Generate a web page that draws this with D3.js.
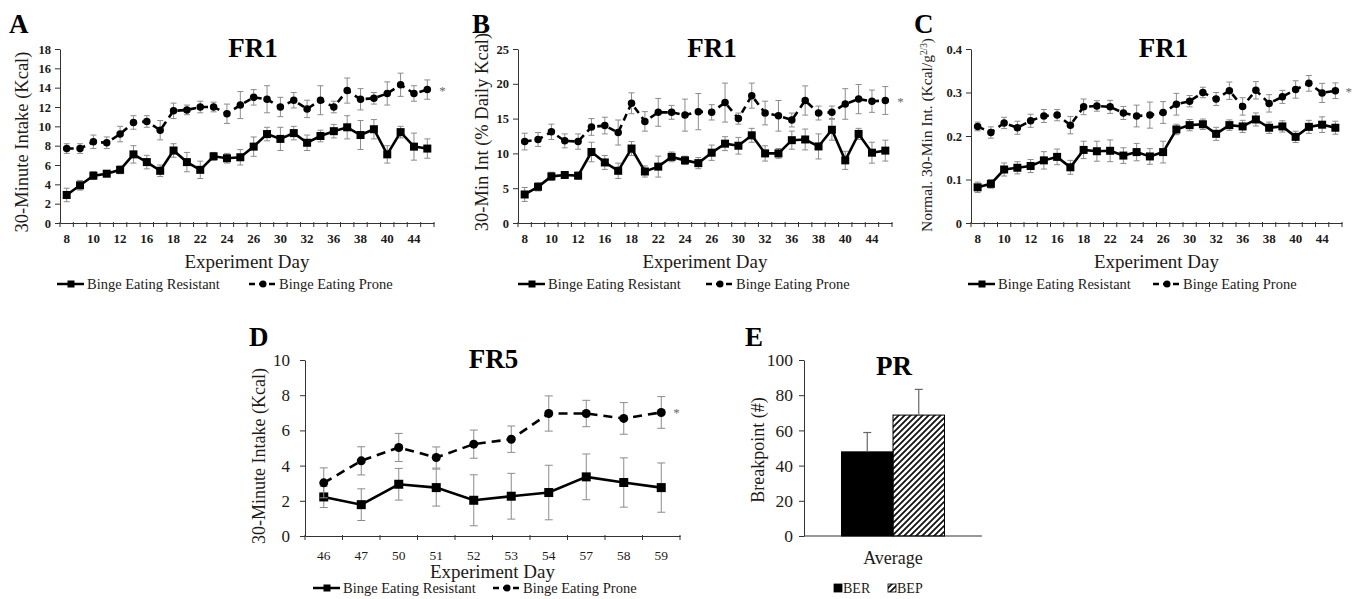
<!DOCTYPE html>
<html>
<head>
<meta charset="utf-8">
<script src="https://cdn.jsdelivr.net/npm/d3@7"></script>
<style>
  body { margin: 0; background: #fff; }
</style>
</head>
<body>
<svg id="chart" width="1361" height="599"></svg>
<script>
'use strict';

// ---- data ----
const frDays = ["8", "9", "10", "11", "12", "15", "16", "17", "18", "19", "22", "23", "24", "25",
    "26", "29", "30", "31", "32", "33", "36", "37", "38", "39", "40", "43", "44", "45"];
const frTickLabels = ["8", "10", "12", "16", "18", "22", "24", "26", "30", "32", "36", "38", "40", "44"];

const aResistant = [2.9, 3.9, 4.9, 5.1, 5.5, 7.1, 6.3, 5.4, 7.5, 6.3, 5.5, 6.9, 6.7, 6.8, 7.9, 9.2, 8.7, 9.3, 8.3, 9.0, 9.5, 9.9, 9.1, 9.7, 7.1, 9.4, 7.9, 7.7];
const aResistantErr = [0.7, 0.5, 0.4, 0.3, 0.4, 0.9, 0.7, 0.6, 0.7, 1.0, 0.9, 0.4, 0.5, 0.8, 1.0, 0.7, 1.2, 0.7, 0.8, 0.6, 0.7, 1.2, 1.5, 1.0, 0.9, 0.6, 1.4, 1.0];
const aProne = [7.7, 7.7, 8.4, 8.3, 9.2, 10.4, 10.5, 9.6, 11.6, 11.7, 12.0, 12.0, 11.3, 12.2, 13.0, 12.8, 12.0, 12.7, 11.8, 12.7, 12.0, 13.7, 12.8, 12.9, 13.4, 14.3, 13.4, 13.8];
const aProneErr = [0.5, 0.5, 0.7, 0.6, 0.8, 0.7, 0.6, 1.0, 0.8, 0.5, 0.6, 0.5, 1.0, 1.4, 0.8, 1.4, 1.0, 0.8, 0.9, 1.5, 0.6, 1.3, 1.1, 0.6, 1.2, 1.2, 0.8, 1.0];

const bResistant = [4.1, 5.2, 6.7, 6.9, 6.8, 10.2, 8.7, 7.5, 10.7, 7.4, 8.1, 9.5, 9.0, 8.6, 10.1, 11.4, 11.1, 12.6, 10.0, 10.0, 11.9, 12.0, 11.0, 13.4, 9.0, 12.8, 10.1, 10.4];
const bResistantErr = [1.0, 0.6, 0.6, 0.5, 0.5, 1.4, 1.0, 1.1, 1.0, 0.8, 1.5, 0.7, 0.6, 0.8, 1.1, 1.0, 1.2, 1.0, 1.1, 0.7, 1.3, 1.5, 1.8, 1.5, 1.3, 0.8, 1.5, 1.5];
const bProne = [11.7, 12.0, 13.1, 11.8, 11.7, 13.8, 14.0, 13.0, 17.2, 14.6, 15.9, 15.9, 15.5, 16.0, 15.9, 17.3, 15.0, 18.3, 15.8, 15.4, 14.8, 17.6, 15.8, 15.9, 17.1, 17.8, 17.5, 17.6];
const bProneErr = [1.2, 1.0, 1.1, 1.0, 1.1, 1.2, 1.2, 1.8, 1.5, 1.4, 2.0, 1.0, 2.3, 2.6, 1.1, 2.8, 0.8, 1.8, 1.7, 2.2, 1.0, 2.1, 1.0, 0.9, 2.2, 2.1, 1.6, 2.0];

const cResistant = [0.082, 0.090, 0.123, 0.127, 0.131, 0.144, 0.152, 0.128, 0.168, 0.165, 0.166, 0.155, 0.163, 0.153, 0.163, 0.215, 0.225, 0.227, 0.205, 0.225, 0.222, 0.238, 0.219, 0.222, 0.198, 0.221, 0.226, 0.219];
const cResistantErr = [0.012, 0.010, 0.015, 0.014, 0.015, 0.020, 0.018, 0.016, 0.020, 0.023, 0.025, 0.018, 0.020, 0.018, 0.025, 0.012, 0.013, 0.012, 0.015, 0.012, 0.014, 0.015, 0.013, 0.013, 0.013, 0.015, 0.018, 0.015];
const cProne = [0.222, 0.208, 0.230, 0.219, 0.235, 0.246, 0.248, 0.225, 0.267, 0.269, 0.267, 0.253, 0.246, 0.248, 0.254, 0.273, 0.280, 0.300, 0.285, 0.304, 0.268, 0.305, 0.275, 0.290, 0.307, 0.321, 0.299, 0.304];
const cProneErr = [0.010, 0.013, 0.013, 0.015, 0.015, 0.015, 0.013, 0.020, 0.018, 0.012, 0.015, 0.015, 0.025, 0.030, 0.025, 0.025, 0.013, 0.012, 0.015, 0.020, 0.020, 0.020, 0.020, 0.015, 0.020, 0.018, 0.022, 0.018];

const fr5Days = ["46", "47", "50", "51", "52", "53", "54", "57", "58", "59"];
const dResistant = [2.22, 1.78, 2.94, 2.75, 2.03, 2.26, 2.47, 3.36, 3.04, 2.75];
const dResistantErr = [0.6, 0.9, 0.9, 1.05, 1.45, 1.3, 1.55, 1.3, 1.4, 1.4];
const dProne = [3.02, 4.27, 5.03, 4.46, 5.22, 5.5, 6.96, 6.96, 6.68, 7.02];
const dProneErr = [0.85, 0.8, 0.8, 0.6, 0.8, 0.75, 1.0, 0.75, 0.9, 0.9];

const prCategory = ["Average"];
const prGroups = ["BER", "BEP"];
const prMeans = [47.8, 68.7];
const prSem = [11.0, 14.6];

const seriesNames = ["Binge Eating Resistant", "Binge Eating Prone"];

// ---- drawing ----
const SERIF = "'Liberation Serif', 'Times New Roman', serif";
const INK = "#1e1a18";
const ERR = "#8c8c8c";
const svg = d3.select("#chart").attr("font-family", SERIF);

// hatch for the BEP bar
svg.append("defs").append("pattern")
    .attr("id", "hatch")
    .attr("patternUnits", "userSpaceOnUse")
    .attr("width", 6).attr("height", 6)
    .append("path")
    .attr("d", "M-1,1 l2,-2 M0,6 l6,-6 M5,7 l2,-2")
    .attr("stroke", "#111")
    .attr("stroke-width", 1.8);

const addMarker = (g, kind, x, y, size) => {
    if (kind === "square") {
        g.append("rect")
            .attr("x", x - size / 2).attr("y", y - size / 2)
            .attr("width", size).attr("height", size)
            .attr("fill", "#000");
    } else {
        g.append("circle")
            .attr("cx", x).attr("cy", y)
            .attr("r", size / 2)
            .attr("fill", "#000");
    }
}

const styleAxisText = (sel, size, weight) => {
    sel.attr("font-family", SERIF).attr("font-size", size);
    sel.selectAll("text").attr("fill", INK).attr("font-weight", weight);
    sel.selectAll("line").attr("stroke", "#333");
    sel.select(".domain").attr("stroke", "#333");
}

const drawLinePanel = (p) => {
    const g = svg.append("g");
    const x = d3.scaleBand().domain(p.days).range([p.x0, p.x1]);
    const y = d3.scaleLinear().domain(p.yDomain).range([p.bottom, p.top]);
    const cx = d => x(d) + x.bandwidth() / 2;

    // y axis
    g.append("g")
        .attr("transform", "translate(" + p.x0 + ",0)")
        .call(d3.axisLeft(y).tickValues(p.yTicks).tickSize(5).tickSizeOuter(0)
            .tickPadding(p.yPad).tickFormat(p.yFmt))
        .call(a => styleAxisText(a, p.yTickFont, p.tickWeight));

    // x axis: ticks on category boundaries, labels on centers
    g.append("g")
        .attr("transform", "translate(0," + p.bottom + ")")
        .call(d3.axisBottom(x).tickSize(0).tickPadding(p.xPad)
            .tickFormat(d => p.shown.includes(d) ? d : ""))
        .call(a => styleAxisText(a, p.xTickFont, p.tickWeight));
    g.selectAll(".bound")
        .data(p.days.map(d => x(d)).concat([p.x1]))
        .enter().append("line")
        .attr("x1", d => d).attr("x2", d => d)
        .attr("y1", p.bottom - 1).attr("y2", p.bottom + 4)
        .attr("stroke", "#333");

    // series
    p.series.forEach(s => {
        const pts = p.days.map((d, i) => ({ x: cx(d), v: s.values[i], e: s.errs[i] }));
        const eb = g.append("g").attr("stroke", ERR).attr("stroke-width", 1);
        pts.forEach(pt => {
            eb.append("line").attr("x1", pt.x).attr("x2", pt.x)
                .attr("y1", y(pt.v - pt.e)).attr("y2", y(pt.v + pt.e));
            [pt.v - pt.e, pt.v + pt.e].forEach(v => {
                eb.append("line").attr("x1", pt.x - p.cap).attr("x2", pt.x + p.cap)
                    .attr("y1", y(v)).attr("y2", y(v));
            });
        });
        g.append("path")
            .datum(pts)
            .attr("fill", "none")
            .attr("stroke", "#000")
            .attr("stroke-width", p.lineWidth)
            .attr("stroke-dasharray", s.dashed ? p.dash : null)
            .attr("d", d3.line().x(d => d.x).y(d => y(d.v)));
        pts.forEach(pt => addMarker(g, s.marker, pt.x, y(pt.v), s.marker === "square" ? p.square : p.dot));
    });

    // significance star
    const last = p.days[p.days.length - 1];
    const prone = p.series[1].values;
    g.append("text")
        .attr("x", cx(last) + p.starDx)
        .attr("y", y(prone[prone.length - 1]) + 5)
        .attr("font-size", 13)
        .attr("fill", "#666")
        .text("*");

    // titles
    g.append("text").attr("x", p.letterX).attr("y", p.letterY)
        .attr("font-size", 27).attr("font-weight", "bold").attr("fill", "#000").text(p.letter);
    g.append("text").attr("x", (p.x0 + p.x1) / 2 + p.titleDx).attr("y", p.top + 8)
        .attr("text-anchor", "middle")
        .attr("font-size", 27).attr("font-weight", "bold").attr("fill", "#000").text(p.title);
    g.append("text").attr("x", (p.x0 + p.x1) / 2).attr("y", p.xLabelY)
        .attr("text-anchor", "middle").attr("font-size", 19).attr("fill", INK)
        .text("Experiment Day");
    const yl = g.append("text")
        .attr("transform", "translate(" + p.yLabelX + "," + p.yLabelMid + ") rotate(-90)")
        .attr("text-anchor", "middle")
        .attr("font-size", p.yLabelFont).attr("fill", INK);
    if (p.yLabelSup) {
        yl.append("tspan").text(p.yLabel);
        yl.append("tspan").attr("baseline-shift", "super").attr("font-size", p.yLabelFont * 0.6).text(p.yLabelSup);
        yl.append("tspan").text(")");
    } else {
        yl.text(p.yLabel);
    }

    // legend
    p.series.forEach((s, i) => {
        const lx = p.legendX[i];
        const lg = g.append("g");
        lg.append("line")
            .attr("x1", lx).attr("x2", lx + 27)
            .attr("y1", p.legendY).attr("y2", p.legendY)
            .attr("stroke", "#000").attr("stroke-width", 2.5)
            .attr("stroke-dasharray", s.dashed ? "6,4" : null);
        addMarker(lg, s.marker, lx + 14, p.legendY, 7);
        lg.append("text")
            .attr("x", lx + 30).attr("y", p.legendY + 5)
            .attr("font-size", 14.5).attr("fill", INK)
            .text(seriesNames[i]);
    });
}

const frBase = {
    days: frDays, shown: frTickLabels, top: 49, bottom: 223,
    yPad: 4, xPad: 11, yTickFont: 12.5, xTickFont: 13, tickWeight: "bold",
    cap: 3, lineWidth: 2.6, dash: "7,5", square: 8, dot: 7.5,
    starDx: 12, titleDx: 0, xLabelY: 268, legendY: 284, letterY: 33
};

drawLinePanel(Object.assign({}, frBase, {
    letter: "A", letterX: 9, title: "FR1", titleDx: 6,
    x0: 60, x1: 434, yDomain: [0, 18], yTicks: d3.range(0, 19, 2), yFmt: d3.format("d"),
    series: [
        { values: aResistant, errs: aResistantErr, dashed: false, marker: "square" },
        { values: aProne, errs: aProneErr, dashed: true, marker: "circle" }
    ],
    yLabel: "30-Minute Intake (Kcal)", yLabelX: 28, yLabelMid: 142, yLabelFont: 18.5,
    legendX: [57, 249]
}));

drawLinePanel(Object.assign({}, frBase, {
    letter: "B", letterX: 472, title: "FR1", titleDx: 7,
    x0: 518, x1: 892, yDomain: [0, 25], yTicks: d3.range(0, 26, 5), yFmt: d3.format("d"),
    series: [
        { values: bResistant, errs: bResistantErr, dashed: false, marker: "square" },
        { values: bProne, errs: bProneErr, dashed: true, marker: "circle" }
    ],
    yLabel: "30-Min Int (% Daily Kcal)", yLabelX: 488, yLabelMid: 132, yLabelFont: 18.5,
    legendX: [518, 706]
}));

drawLinePanel(Object.assign({}, frBase, {
    letter: "C", letterX: 914, title: "FR1", titleDx: 7,
    x0: 971, x1: 1342, yDomain: [0, 0.4], yTicks: d3.range(0, 0.41, 0.1), yFmt: d => d === 0 ? "0" : d3.format(".1f")(d),
    series: [
        { values: cResistant, errs: cResistantErr, dashed: false, marker: "square" },
        { values: cProne, errs: cProneErr, dashed: true, marker: "circle" }
    ],
    yLabel: "Normal. 30-Min Int. (Kcal/g", yLabelSup: "2/3", yLabelX: 932, yLabelMid: 135, yLabelFont: 15.5,
    legendX: [968, 1153], starDx: 10
}));

drawLinePanel(Object.assign({}, frBase, {
    days: fr5Days, shown: fr5Days, top: 360, bottom: 536,
    letter: "D", letterX: 249, letterY: 346, title: "FR5", titleDx: 1,
    x0: 305, x1: 680, yDomain: [0, 10], yTicks: d3.range(0, 11, 2), yFmt: d3.format("d"),
    yPad: 10, xPad: 14, yTickFont: 17, xTickFont: 13.5, tickWeight: "normal",
    cap: 4, lineWidth: 2.6, dash: "9,6", square: 9, dot: 9,
    series: [
        { values: dResistant, errs: dResistantErr, dashed: false, marker: "square" },
        { values: dProne, errs: dProneErr, dashed: true, marker: "circle" }
    ],
    yLabel: "30-Minute Intake (Kcal)", yLabelX: 265, yLabelMid: 456, yLabelFont: 18,
    xLabelY: 578, legendY: 588, legendX: [313, 493], starDx: 12
}));

// ---- panel E: progressive ratio bars ----
const drawBarPanel = () => {
    const g = svg.append("g");
    const x0 = 804, x1 = 982, top = 360, bottom = 536;
    const xc = d3.scaleBand().domain(prCategory).range([x0, x1]).paddingOuter(0.364);
    const xg = d3.scaleBand().domain(prGroups).range([0, xc.bandwidth()]);
    const y = d3.scaleLinear().domain([0, 100]).range([bottom, top]);

    g.append("g")
        .attr("transform", "translate(" + x0 + ",0)")
        .call(d3.axisLeft(y).tickValues(d3.range(0, 101, 20)).tickSize(5).tickSizeOuter(0).tickPadding(6))
        .call(a => styleAxisText(a, 17.5, "normal"));
    g.append("line").attr("x1", x0).attr("x2", x1).attr("y1", bottom).attr("y2", bottom)
        .attr("stroke", "#333");

    const bx = d => xc("Average") + xg(d);
    prGroups.forEach((grp, i) => {
        g.append("rect")
            .attr("x", bx(grp)).attr("y", y(prMeans[i]))
            .attr("width", xg.bandwidth()).attr("height", bottom - y(prMeans[i]))
            .attr("fill", i === 0 ? "#000" : "url(#hatch)")
            .attr("stroke", "#000").attr("stroke-width", 1);
        const mx = bx(grp) + xg.bandwidth() / 2;
        g.append("line").attr("x1", mx).attr("x2", mx)
            .attr("y1", y(prMeans[i])).attr("y2", y(prMeans[i] + prSem[i]))
            .attr("stroke", "#666").attr("stroke-width", 1.2);
        g.append("line").attr("x1", mx - 4).attr("x2", mx + 4)
            .attr("y1", y(prMeans[i] + prSem[i])).attr("y2", y(prMeans[i] + prSem[i]))
            .attr("stroke", "#666").attr("stroke-width", 1.2);
    });

    g.append("text").attr("x", xc("Average") + xc.bandwidth() / 2).attr("y", 564)
        .attr("text-anchor", "middle").attr("font-size", 18).attr("fill", INK).text("Average");

    g.append("text").attr("x", 745).attr("y", 346)
        .attr("font-size", 27).attr("font-weight", "bold").attr("fill", "#000").text("E");
    g.append("text").attr("x", 894).attr("y", 375)
        .attr("text-anchor", "middle")
        .attr("font-size", 27).attr("font-weight", "bold").attr("fill", "#000").text("PR");
    g.append("text")
        .attr("transform", "translate(764,450) rotate(-90)")
        .attr("text-anchor", "middle").attr("font-size", 18).attr("fill", INK)
        .text("Breakpoint (#)");

    // legend
    const legX = [834, 888];
    prGroups.forEach((grp, i) => {
        g.append("rect").attr("x", legX[i]).attr("y", 584).attr("width", 8).attr("height", 8)
            .attr("fill", i === 0 ? "#000" : "url(#hatch)").attr("stroke", "#000").attr("stroke-width", 0.8);
        g.append("text").attr("x", legX[i] + 9).attr("y", 593)
            .attr("font-size", 14).attr("fill", INK).text(grp);
    });
}

drawBarPanel();
</script>
</body>
</html>
